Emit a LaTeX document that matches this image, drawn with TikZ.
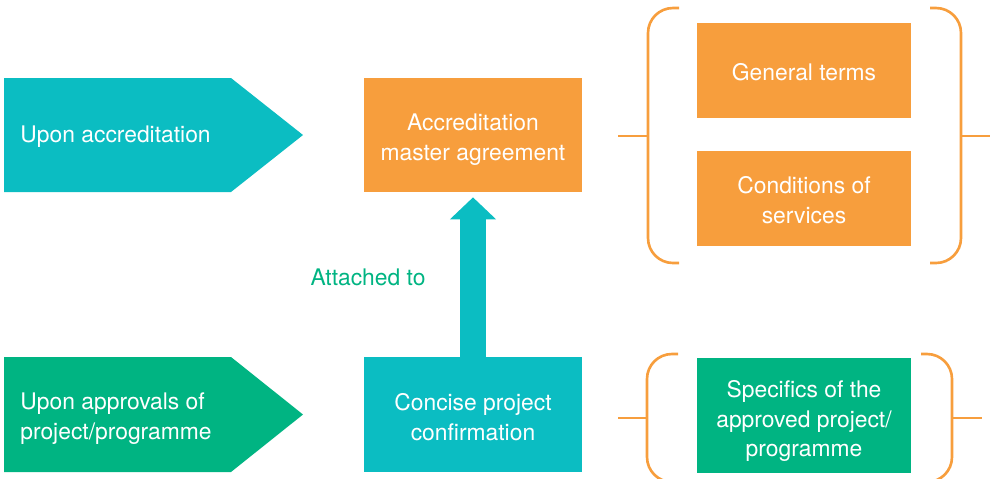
\documentclass[tikz,border=0pt]{standalone}
\usepackage{fontspec}
\setmainfont{TeX Gyre Heros}
\usetikzlibrary{arrows.meta,calc}
\definecolor{cteal}{HTML}{0BBDC2}
\definecolor{corange}{HTML}{F79E3D}
\definecolor{cgreen}{HTML}{00B482}
\newcommand\lowr[1]{\rule{0pt}{#1}}
\begin{document}
\begin{tikzpicture}[x=0.02cm,y=-0.02cm,
  txt/.style={font=\fontsize{13}{17}\selectfont,inner sep=0pt},
  box/.style={txt,text=white,align=center,minimum width=4.28cm,minimum height=1.9cm},
  brace/.style={draw=corange,line width=1.5pt,rounded corners=0.5cm}]
\useasboundingbox (0,0) rectangle (990,478);
% left pointers
\fill[cteal] (4,78) -- (231,78) -- (303,135) -- (231,192) -- (4,192) -- cycle;
\node[txt,text=white,anchor=west] (upacc) at (20,137) {Upon accreditation};
\fill[cgreen] (4,357) -- (231,357) -- (303,414.5) -- (231,472) -- (4,472) -- cycle;
\node[txt,text=white,anchor=west,align=left] (upappr) at (20,419) {Upon approvals of\\project/programme};
% middle column
\node[box,fill=corange,minimum width=4.36cm,minimum height=2.28cm] (master) at (473,135) {\lowr{15pt}Accreditation\\master agreement};
\node[box,fill=cteal,minimum width=4.36cm,minimum height=2.3cm] (concise) at (473,414.5) {\lowr{13pt}Concise project\\confirmation};
\draw[cteal,line width=14.7pt,-{Triangle[width=25.5pt,length=12.5pt]}] (concise.north) -- ($(master.south)+(0,5)$);
\node[txt,text=cgreen] (attached) at (368,277) {Attached to};
% right column
\node[box,fill=corange] (general) at (804,70.5) {\lowr{12pt}General terms};
\node[box,fill=corange] (conditions) at (804,198.5) {\lowr{12pt}Conditions of\\services};
\node[box,fill=cgreen,minimum height=2.3cm] (specifics) at (804,415.5) {\lowr{16pt}Specifics of the\\approved project/\\programme};
% brackets
\foreach \t/\b/\m/\l/\r/\e in {8/263/136/648/961/990, 354/482/418/647/952/982} {
  \draw[brace] (\l+31,\t) -- (\l,\t) -- (\l,\b) -- (\l+31,\b);
  \draw[brace] (\r-31,\t) -- (\r,\t) -- (\r,\b) -- (\r-31,\b);
  \draw[brace] (618,\m) -- (\l,\m);
  \draw[brace] (\r,\m) -- (\e,\m);
}
\end{tikzpicture}
\end{document}
